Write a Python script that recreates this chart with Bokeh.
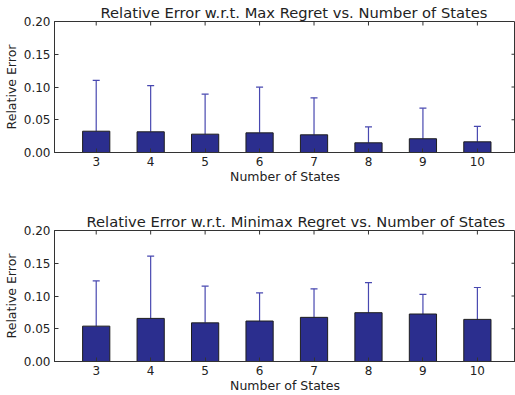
import math
from bokeh.plotting import figure
from bokeh.layouts import column
from bokeh.models import (ColumnDataSource, FixedTicker, Range1d,
                          Whisker, TeeHead, NumeralTickFormatter)
from bokeh.embed import file_html
from bokeh.resources import INLINE

states = [3, 4, 5, 6, 7, 8, 9, 10]
max_regret_mean = [0.0325, 0.0316, 0.028, 0.030, 0.027, 0.0148, 0.021, 0.0163]
max_regret_err = [0.0775, 0.0704, 0.061, 0.0697, 0.0565, 0.0242, 0.0466, 0.0237]
minimax_mean = [0.054, 0.0658, 0.059, 0.0618, 0.0674, 0.0745, 0.0725, 0.0643]
minimax_err = [0.069, 0.0952, 0.056, 0.0429, 0.0436, 0.046, 0.030, 0.0487]
y_ticks = [0.0, 0.05, 0.10, 0.15, 0.20]
inner_y_ticks = [0.05, 0.10, 0.15]

titles = ["Relative Error w.r.t. Max Regret vs. Number of States",
          "Relative Error w.r.t. Minimax Regret vs. Number of States"]
title_offsets = [46, 32]

X_START, X_END = 2.234, 10.7
Y_START, Y_END = 0.0, 0.2
FONT = "DejaVu Sans"
TXT = "#222222"
SPINE = "#333333"


def make_panel(means, errs, title, offset):
    upper = [m + e for m, e in zip(means, errs)]
    src = ColumnDataSource(dict(x=states, top=means, upper=upper))
    p = figure(frame_width=461, frame_height=131,
               x_range=Range1d(X_START, X_END), y_range=Range1d(Y_START, Y_END),
               output_backend="svg", toolbar_location=None,
               min_border_left=0, min_border_right=0,
               min_border_top=0, min_border_bottom=0,
               title=title)
    p.title.text_font = FONT
    p.title.text_font_size = "14.7px"
    p.title.text_font_style = "normal"
    p.title.text_color = TXT
    p.title.align = "left"
    p.title.offset = offset
    p.title.standoff = 2
    p.outline_line_color = SPINE
    p.outline_line_width = 1
    p.background_fill_color = "white"
    p.border_fill_color = "white"
    p.grid.visible = False

    p.vbar(x="x", top="top", width=0.5, source=src,
           fill_color="#2b2e8e", line_color="#1e1e1e", line_width=1)
    w = Whisker(base="x", lower="top", upper="upper", source=src,
                line_color="#4848b0", line_width=1.2,
                upper_head=TeeHead(size=7, line_color="#4848b0", line_width=1.2),
                lower_head=None)
    p.add_layout(w)

    # inward ticks along top and right edges (half of each dash is clipped by the frame)
    p.scatter(x=states, y=[Y_END] * len(states), marker="dash", size=8,
              angle=math.pi / 2, line_color=SPINE, line_width=1)
    p.scatter(x=[X_END] * len(inner_y_ticks), y=inner_y_ticks, marker="dash", size=8,
              line_color=SPINE, line_width=1)

    xa = p.xaxis[0]
    xa.ticker = FixedTicker(ticks=states)
    xa.axis_label = "Number of States"
    ya = p.yaxis[0]
    ya.ticker = FixedTicker(ticks=y_ticks)
    ya.formatter = NumeralTickFormatter(format="0.00")
    ya.axis_label = "Relative Error"
    for ax in (xa, ya):
        ax.major_tick_in = 4
        ax.major_tick_out = 0
        ax.minor_tick_line_color = None
        ax.axis_line_color = SPINE
        ax.major_tick_line_color = SPINE
        ax.major_label_text_font = FONT
        ax.major_label_text_font_size = "12px"
        ax.major_label_text_color = TXT
        ax.axis_label_text_font = FONT
        ax.axis_label_text_font_size = "12.5px"
        ax.axis_label_text_font_style = "normal"
        ax.axis_label_text_color = TXT
    xa.major_label_standoff = 4
    xa.axis_label_standoff = 0
    ya.major_label_standoff = 4
    ya.axis_label_standoff = 2
    return p


p1 = make_panel(max_regret_mean, max_regret_err, titles[0], title_offsets[0])
p2 = make_panel(minimax_mean, minimax_err, titles[1], title_offsets[1])
layout = column(p1, p2, spacing=23)

open("out.html", "w").write(file_html(layout, INLINE))
